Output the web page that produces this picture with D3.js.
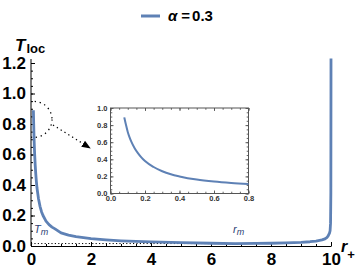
<!DOCTYPE html>
<html><head><meta charset="utf-8">
<script src="https://cdn.jsdelivr.net/npm/d3@7/dist/d3.min.js"></script>
<style>
html,body{margin:0;padding:0;background:#fff;}
svg{display:block;font-family:"Liberation Sans",Arial,sans-serif;}
</style></head>
<body>
<svg id="c" width="360" height="272"></svg>
<script>
// ---- data ----
const rPlus = [0.08,0.09,0.1,0.11,0.12,0.14,0.16,0.18,0.2,0.25,0.3,0.35,0.4,0.5,0.6,0.7,0.8,1.0,1.25,1.5,2,2.5,3,3.5,4,5,6,6.8,7.5,8,8.5,9,9.3,9.5,9.7,9.8,9.86,9.9,9.95,9.97,9.985,9.995,9.999,10];
const Tloc  = [0.89,0.80,0.72,0.66,0.61,0.53,0.47,0.42,0.38,0.31,0.26,0.225,0.2,0.163,0.14,0.124,0.112,0.086,0.071,0.061,0.048,0.04,0.034,0.03,0.027,0.022,0.018,0.016,0.017,0.018,0.02,0.024,0.028,0.032,0.04,0.047,0.055,0.065,0.085,0.1,0.15,0.35,1.0,1.23];
const seriesLabel = "0.3";
const xTicks = [0,2,4,6,8,10];
const yTicks = [0,0.2,0.4,0.6,0.8,1.0,1.2];
const insetXTicks = [0,0.2,0.4,0.6,0.8];
const insetYTicks = [0,0.2,0.4,0.6,0.8,1.0];
const Tm = 0.016, rm = 6.8;

const data = rPlus.map((r,i)=>({r:r,t:Tloc[i]}));
const svg = d3.select("#c");
const col = "#5E81B5";
const fmt = d3.format(".1f");

// main scales
const x = d3.scaleLinear().domain([0,10]).range([31,331]);
const y = d3.scaleLinear().domain([0,1.2]).range([246,63]);

const defs = svg.append("defs");
defs.append("clipPath").attr("id","clipMain").append("rect")
  .attr("x",31).attr("y",58).attr("width",310).attr("height",189);
defs.append("marker").attr("id","arr").attr("viewBox","0 0 10 10")
  .attr("refX",9).attr("refY",5).attr("markerWidth",9).attr("markerHeight",9)
  .attr("markerUnits","userSpaceOnUse").attr("orient","auto")
  .append("path").attr("d","M0,1 L10,5 L0,9 Z").attr("fill","#000");

// legend
const lg = svg.append("g");
lg.append("line").attr("x1",141).attr("x2",160).attr("y1",16).attr("y2",16)
  .attr("stroke",col).attr("stroke-width",3);
const lt = lg.append("text").attr("x",168).attr("y",21).attr("font-size",15).attr("font-weight","bold");
lt.append("tspan").attr("font-style","italic").text("α");
lt.append("tspan").attr("dx",4).text("=");
lt.append("tspan").attr("dx",2).text(seriesLabel);

// main axes
const yAxis = d3.axisLeft(y).tickValues(yTicks).tickFormat(fmt).tickSize(-4).tickSizeOuter(0).tickPadding(5);
const yMinor = d3.axisLeft(y).tickValues(d3.range(0,1.2001,0.05)).tickFormat("").tickSize(-2).tickSizeOuter(0);
const xAxis = d3.axisBottom(x).tickValues(xTicks).tickFormat(d3.format("d")).tickSize(-4).tickSizeOuter(0).tickPadding(7);
const xMinor = d3.axisBottom(x).tickValues(d3.range(0,10.001,0.5)).tickFormat("").tickSize(-2).tickSizeOuter(0);

function styleAxis(g, fs){
  g.selectAll("path,line").attr("stroke","#000").attr("stroke-width",1);
  g.selectAll("text").attr("font-size",fs).attr("font-weight","bold").attr("fill","#000")
   .attr("font-family","Liberation Sans, Arial, sans-serif");
}
const gy = svg.append("g").attr("transform","translate(31,0)").call(yAxis); styleAxis(gy,17);
const gym = svg.append("g").attr("transform","translate(31,0)").call(yMinor); styleAxis(gym,17);
gym.select(".domain").remove();
const gx = svg.append("g").attr("transform","translate(0,246)").call(xAxis); styleAxis(gx,17);
const gxm = svg.append("g").attr("transform","translate(0,246)").call(xMinor); styleAxis(gxm,17);
gxm.select(".domain").remove();
gy.select(".domain").attr("d","M0,59V246");

// axis labels
const tl = svg.append("text").attr("x",15).attr("y",51).attr("font-weight","bold").attr("fill","#000");
tl.append("tspan").attr("font-style","italic").attr("font-size",17).text("T");
tl.append("tspan").attr("font-size",13).attr("dx",1).attr("dy",2).text("loc");
const rl = svg.append("text").attr("x",341).attr("y",252).attr("font-weight","bold").attr("fill","#000");
rl.append("tspan").attr("font-style","italic").attr("font-size",16).text("r");
rl.append("tspan").attr("font-size",13).attr("dx",0).attr("dy",7).text("+");

// plot area
const pa = svg.append("g").attr("clip-path","url(#clipMain)");
// dotted T_m line
pa.append("line").attr("x1",x(0)).attr("x2",x(rm)).attr("y1",y(Tm)).attr("y2",y(Tm))
  .attr("stroke","#000").attr("stroke-width",1).attr("stroke-dasharray","1.2,2.2");
const line = d3.line().x(d=>x(d.r)).y(d=>y(d.t));
pa.append("path").datum(data).attr("d",line).attr("fill","none")
  .attr("stroke",col).attr("stroke-width",2.8).attr("stroke-linejoin","round");
// zoom circle
pa.append("ellipse").attr("cx",x(0.1)).attr("cy",y(0.83)).attr("rx",18).attr("ry",18)
  .attr("fill","none").attr("stroke","#000").attr("stroke-width",1.3).attr("stroke-dasharray","1.3,3.7");

// T_m / r_m labels
const lc = "#2E4275";
const tm = svg.append("text").attr("x",34).attr("y",233).attr("fill",lc).attr("font-style","italic");
tm.append("tspan").attr("font-size",11).text("T");
tm.append("tspan").attr("font-size",9).attr("dy",2).text("m");
const rmT = svg.append("text").attr("x",233).attr("y",233).attr("fill",lc).attr("font-style","italic");
rmT.append("tspan").attr("font-size",11).text("r");
rmT.append("tspan").attr("font-size",9).attr("dy",2).text("m");

// arrow
svg.append("line").attr("x1",53).attr("y1",125).attr("x2",90).attr("y2",148)
  .attr("stroke","#000").attr("stroke-width",1.2).attr("stroke-dasharray","1.3,3.2")
  .attr("marker-end","url(#arr)");

// ---- inset ----
const xi = d3.scaleLinear().domain([0,0.8]).range([110.5,248.5]);
const yi = d3.scaleLinear().domain([0,1]).range([193.5,108]);
const ins = svg.append("g");
ins.append("rect").attr("x",110.5).attr("y",108).attr("width",138).attr("height",85.5)
  .attr("fill","#fff").attr("stroke","#555").attr("stroke-width",1);
const ic = "#555";
function istyle(g){
  g.selectAll("path,line").attr("stroke",ic).attr("stroke-width",0.9);
  g.selectAll("text").attr("font-size",7.5).attr("font-weight","bold").attr("fill","#333");
  g.select(".domain").remove();
}
const iyl = ins.append("g").attr("transform","translate(110.5,0)")
  .call(d3.axisLeft(yi).tickValues(insetYTicks).tickFormat(fmt).tickSize(-3).tickSizeOuter(0).tickPadding(3)); istyle(iyl);
const iylm = ins.append("g").attr("transform","translate(110.5,0)")
  .call(d3.axisLeft(yi).tickValues(d3.range(0,1.001,0.05)).tickFormat("").tickSize(-1.8).tickSizeOuter(0)); istyle(iylm);
const iyr = ins.append("g").attr("transform","translate(248.5,0)")
  .call(d3.axisRight(yi).tickValues(insetYTicks).tickFormat("").tickSize(-3).tickSizeOuter(0)); istyle(iyr);
const iyrm = ins.append("g").attr("transform","translate(248.5,0)")
  .call(d3.axisRight(yi).tickValues(d3.range(0,1.001,0.05)).tickFormat("").tickSize(-1.8).tickSizeOuter(0)); istyle(iyrm);
const ixb = ins.append("g").attr("transform","translate(0,193.5)")
  .call(d3.axisBottom(xi).tickValues(insetXTicks).tickFormat(fmt).tickSize(-3).tickSizeOuter(0).tickPadding(2)); istyle(ixb);
const ixbm = ins.append("g").attr("transform","translate(0,193.5)")
  .call(d3.axisBottom(xi).tickValues(d3.range(0,0.801,0.05)).tickFormat("").tickSize(-1.8).tickSizeOuter(0)); istyle(ixbm);
const ixt = ins.append("g").attr("transform","translate(0,108)")
  .call(d3.axisTop(xi).tickValues(insetXTicks).tickFormat("").tickSize(-3).tickSizeOuter(0)); istyle(ixt);
const ixtm = ins.append("g").attr("transform","translate(0,108)")
  .call(d3.axisTop(xi).tickValues(d3.range(0,0.801,0.05)).tickFormat("").tickSize(-1.8).tickSizeOuter(0)); istyle(ixtm);
const iline = d3.line().x(d=>xi(d.r)).y(d=>yi(d.t)).curve(d3.curveMonotoneX);
ins.append("path").datum(data.filter(d=>d.r<=0.8)).attr("d",iline).attr("fill","none")
  .attr("stroke",col).attr("stroke-width",2).attr("stroke-linejoin","round");
</script>
</body></html>
